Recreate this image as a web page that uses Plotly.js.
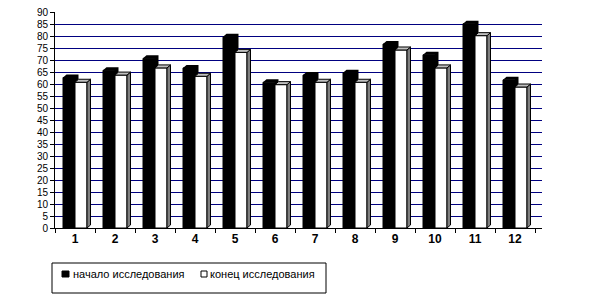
<!DOCTYPE html>
<html>
<head>
<meta charset="utf-8">
<script src="https://cdn.plot.ly/plotly-3.0.1.min.js"></script>
<style>html,body{margin:0;padding:0;background:#fff;}#chart{width:614px;height:303px;}</style>
</head>
<body>
<div id="chart"></div>
<script>
const categories = ['1','2','3','4','5','6','7','8','9','10','11','12'];
const startValues = [63, 66, 71, 67, 80, 61, 64, 65, 77, 72.5, 85.5, 62];
const endValues   = [61, 64, 67, 63.5, 73.5, 60, 61, 61, 74.5, 67, 80.5, 59];
const seriesNames = ['начало исследования', 'конец исследования'];
const yTickVals = [0,5,10,15,20,25,30,35,40,45,50,55,60,65,70,75,80,85,90];

const W = 614, H = 303;
const M = {l: 55, r: 72, t: 12, b: 75};
const plotW = W - M.l - M.r, plotH = H - M.t - M.b;
const px2x = p => (p - M.l) / plotW;
const px2y = p => (H - M.b - p) / plotH;

const yMax = 90.4;
const xMin = -0.5, xMax = 11.675;
const dx = 3.5 * (xMax - xMin) / plotW;   // depth in category units
const dy = 3 * yMax / plotH;             // depth in value units
const bw = 0.3;

const traces = [
  {type: 'bar', x: categories, y: startValues, name: seriesNames[0],
   marker: {color: '#000000', line: {color: '#000000', width: 1}}, hoverinfo: 'x+y'},
  {type: 'bar', x: categories, y: endValues, name: seriesNames[1],
   marker: {color: '#ffffff', line: {color: '#000000', width: 1}}, hoverinfo: 'x+y'}
];

const shapes = [];
categories.forEach((c, i) => {
  const v = startValues[i];
  const a = i - bw, b = i;
  shapes.push({type: 'path', xref: 'x', yref: 'y', layer: 'between',
    path: `M${a},${v} L${a+dx},${v+dy} L${b+dx},${v+dy} L${b+dx},${dy} L${b},0 L${b},${v} Z`,
    fillcolor: '#000000', line: {width: 0}});
  const w = endValues[i];
  const a2 = i, b2 = i + bw;
  shapes.push({type: 'path', xref: 'x', yref: 'y', layer: 'above',
    path: `M${b2},0 L${b2+dx},${dy} L${b2+dx},${w+dy} L${b2},${w} Z`,
    fillcolor: '#808080', line: {color: '#000000', width: 1}});
  shapes.push({type: 'path', xref: 'x', yref: 'y', layer: 'above',
    path: `M${a2},${w} L${a2+dx},${w+dy} L${b2+dx},${w+dy} L${b2},${w} Z`,
    fillcolor: '#c0c0c0', line: {color: '#000000', width: 1}});
});

// custom legend
shapes.push({type: 'rect', xref: 'paper', yref: 'paper',
  x0: px2x(52), x1: px2x(326), y0: px2y(263), y1: px2y(293),
  fillcolor: '#ffffff', line: {color: '#000000', width: 1}});
shapes.push({type: 'rect', xref: 'paper', yref: 'paper',
  x0: px2x(62), x1: px2x(69), y0: px2y(271), y1: px2y(277),
  fillcolor: '#000000', line: {color: '#000000', width: 1}});
shapes.push({type: 'rect', xref: 'paper', yref: 'paper',
  x0: px2x(201), x1: px2x(207), y0: px2y(271), y1: px2y(277),
  fillcolor: '#ffffff', line: {color: '#000000', width: 1}});

const annotations = [
  {xref: 'paper', yref: 'paper', x: px2x(71), y: px2y(274), xanchor: 'left', yanchor: 'middle',
   text: seriesNames[0], showarrow: false, font: {size: 11, color: '#000'}},
  {xref: 'paper', yref: 'paper', x: px2x(208), y: px2y(274), xanchor: 'left', yanchor: 'middle',
   text: seriesNames[1], showarrow: false, font: {size: 11, color: '#000'}}
];

const layout = {
  width: W, height: H,
  margin: M,
  paper_bgcolor: '#ffffff', plot_bgcolor: '#ffffff',
  font: {family: '"Liberation Sans", Arial, sans-serif', color: '#000000'},
  showlegend: false,
  barmode: 'group', bargap: 0.4, bargroupgap: 0,
  xaxis: {type: 'category', range: [xMin, xMax], tickson: 'boundaries',
    ticks: 'outside', ticklen: 4, tickcolor: '#000', showline: true, linecolor: '#000', linewidth: 1,
    showgrid: false, tickfont: {size: 12, weight: 'bold'}, fixedrange: true},
  yaxis: {range: [0, yMax], tickvals: yTickVals, ticktext: yTickVals.map(String),
    ticks: 'outside', ticklen: 4, tickcolor: '#000', showline: true, linecolor: '#000', linewidth: 1,
    showgrid: true, gridcolor: '#000080', gridwidth: 1, zeroline: false,
    tickfont: {size: 10}, fixedrange: true},
  shapes: shapes,
  annotations: annotations
};

Plotly.newPlot('chart', traces, layout, {displayModeBar: false, staticPlot: true});
</script>
</body>
</html>
